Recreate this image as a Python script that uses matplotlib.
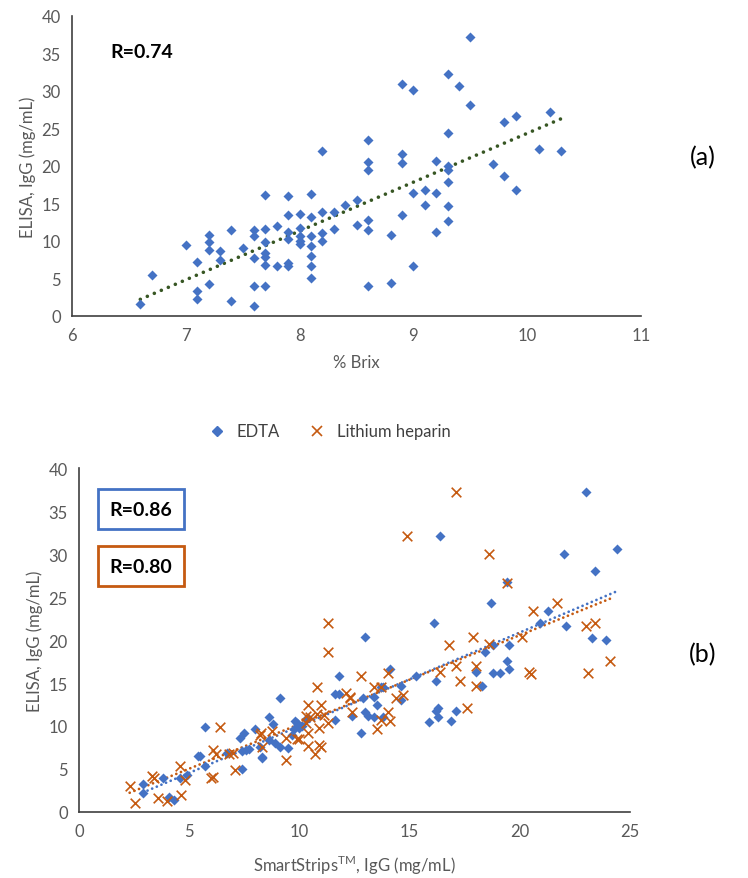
import matplotlib
matplotlib.use("Agg")
import matplotlib.pyplot as plt
from matplotlib.lines import Line2D
import numpy as np

plt.rcParams['font.family'] = ['Lato', 'DejaVu Sans']

# --- panel (a): % Brix vs ELISA IgG ---
brix = [9.5, 9.3, 8.9, 9.0, 9.4, 9.5, 10.2, 9.9, 9.8, 9.3, 8.6, 8.2, 10.1, 10.3, 8.9,
        8.9, 8.6, 8.6, 9.2, 9.3, 9.3, 9.7, 9.8, 9.3, 9.9, 9.0, 9.1, 9.2, 7.7, 7.9,
        8.1, 8.5, 8.4, 8.3, 8.2, 8.1, 8.0, 7.9, 9.1, 9.3, 8.9, 9.3, 8.6, 8.5, 8.3,
        8.2, 8.2, 8.6, 9.2, 8.8, 7.8, 7.7, 8.0, 7.9, 7.9, 8.0, 8.0, 8.0, 8.1, 8.1,
        8.1, 8.1, 8.1, 7.6, 7.6, 7.4, 7.2, 7.2, 7.2, 7.0, 7.3, 7.5, 7.7, 7.7, 7.7,
        7.7, 7.6, 7.8, 7.9, 7.9, 7.3, 7.1, 7.2, 7.1, 7.1, 7.4, 7.6, 7.6, 7.7, 6.7,
        6.6, 8.6, 8.8, 9.0]
elisa_a = [37.2, 32.2, 30.9, 30.1, 30.6, 28.1, 27.2, 26.7, 25.8, 24.4, 23.5, 22.0, 22.2, 22.0, 21.6,
           20.4, 20.5, 19.4, 20.7, 20.0, 19.4, 20.3, 18.6, 17.8, 16.8, 16.4, 16.8, 16.4, 16.1, 16.0,
           16.3, 15.4, 14.8, 13.9, 13.9, 13.2, 13.6, 13.5, 14.8, 14.6, 13.5, 12.6, 12.8, 12.1, 11.6,
           11.0, 10.0, 11.4, 11.2, 10.8, 12.0, 11.6, 11.7, 11.2, 10.3, 10.6, 10.0, 9.6, 10.7, 9.3,
           8.0, 6.6, 5.1, 11.4, 10.7, 11.4, 10.8, 9.9, 8.8, 9.5, 8.7, 9.1, 9.8, 8.4, 7.9,
           6.8, 7.7, 6.6, 7.1, 6.7, 7.4, 7.2, 4.2, 3.3, 2.3, 2.0, 1.3, 4.0, 4.0, 5.5,
           1.6, 4.0, 4.4, 6.6]

# --- panel (b): SmartStrips vs ELISA IgG ---
edta_x = [23.0, 16.4, 22.0, 24.4, 23.4, 19.4, 18.7, 21.3, 20.9, 16.1, 22.1, 23.3, 23.9, 13.0,
          19.5, 18.8, 18.4, 19.4, 19.5, 18.8, 19.1, 18.0, 16.2, 18.3, 14.1, 15.3, 14.6, 14.6,
          13.8, 13.7, 11.8, 11.6, 11.8, 12.9, 13.4, 9.1, 12.4, 13.0, 13.1, 13.5, 13.4, 13.8,
          12.8, 11.6, 16.2, 16.3, 15.9, 16.9, 17.1, 16.3, 8.6, 8.8, 8.0, 9.8, 10.0, 9.75,
          10.1, 10.3, 9.65, 9.1, 8.9, 8.6, 8.2, 9.5, 8.3, 5.7, 7.5, 7.3, 7.6, 7.4, 6.7,
          5.4, 5.5, 5.7, 4.9, 4.6, 3.8, 2.9, 2.9, 4.1, 4.3, 7.4, 7.7, 8.3, 10.4, 9.9]
edta_y = [37.2, 32.1, 30.0, 30.6, 28.0, 26.7, 24.3, 23.4, 22.0, 22.0, 21.6, 20.2, 20.0, 20.3,
          19.4, 19.4, 18.6, 17.6, 16.6, 16.2, 16.2, 16.3, 15.2, 14.6, 16.6, 15.8, 14.6, 13.0,
          14.5, 14.5, 15.8, 13.7, 13.7, 13.2, 13.4, 13.3, 11.2, 11.6, 11.2, 12.4, 11.0, 11.0,
          9.2, 10.7, 11.8, 11.0, 10.5, 10.6, 11.7, 12.1, 11.1, 10.2, 9.6, 10.6, 9.8, 9.6,
          10.0, 10.8, 9.0, 7.6, 8.0, 8.4, 7.6, 7.4, 6.3, 9.9, 9.2, 8.6, 7.2, 7.1, 6.9,
          6.5, 6.5, 5.4, 4.3, 3.9, 4.0, 3.3, 2.2, 1.8, 1.4, 5.0, 7.3, 6.4, 10.9, 10.4]
li_x = [17.1, 14.9, 18.6, 19.4, 20.6, 21.7, 11.3, 23.0, 23.4, 11.3, 17.9, 16.8, 20.1, 18.6,
        24.1, 23.1, 20.4, 20.5, 17.1, 18.0, 16.4, 17.3, 18.0, 12.8, 14.0, 13.4, 13.7, 14.4,
        14.7, 12.1, 12.3, 10.8, 10.4, 11.0, 11.1, 14.0, 14.1, 13.7, 13.5, 17.6, 10.3, 10.8,
        10.5, 11.3, 10.3, 10.9, 10.4, 10.9, 11.0, 10.0, 10.4, 10.7, 9.4, 9.4, 8.75, 8.25,
        8.3, 6.4, 6.1, 6.2, 7.1, 6.1, 6.0, 4.6, 4.8, 3.4, 3.3, 3.6, 4.0, 4.65, 2.3, 2.55,
        8.2, 7.0, 6.8, 12.4, 12.3, 9.9]
li_y = [37.2, 32.1, 30.0, 26.6, 23.4, 24.3, 22.0, 21.6, 22.0, 18.6, 20.3, 19.4, 20.4, 19.5,
        17.6, 16.2, 16.3, 16.0, 17.0, 17.0, 16.3, 15.2, 14.6, 15.8, 16.2, 14.5, 14.5, 13.2,
        13.6, 13.8, 13.2, 14.5, 12.4, 12.5, 11.3, 11.6, 10.6, 10.7, 9.6, 12.1, 11.2, 11.4,
        11.0, 10.3, 10.3, 9.8, 9.2, 7.8, 7.5, 8.5, 7.7, 6.7, 8.6, 6.1, 9.4, 9.2,
        7.5, 9.9, 7.2, 6.7, 4.9, 4.1, 3.9, 5.3, 3.7, 4.0, 4.2, 1.6, 1.3, 2.0, 3.0, 1.0,
        9.0, 6.9, 6.8, 11.6, 13.4, 8.5]

r_texts = ["R=0.74", "R=0.86", "R=0.80"]

blue = "#4472C4"
orange = "#C55A11"
green = "#375623"
gray = "#595959"


def trend(ax, x, y, color, lw, gap):
    # linear least squares trend, Excel style, over the data range
    x = np.array(x)
    k, b = np.polyfit(x, np.array(y), 1)
    xs = np.linspace(x.min(), x.max(), 50)
    ax.plot(xs, k * xs + b, linestyle=(0, (0.01, gap)), color=color, lw=lw,
            dash_capstyle='round', zorder=1)


def style(ax):
    for s in ['top', 'right']:
        ax.spines[s].set_visible(False)
    for s in ['left', 'bottom']:
        ax.spines[s].set_color('#404040')
        ax.spines[s].set_linewidth(1.2)
    ax.tick_params(length=0, labelsize=12, labelcolor=gray, pad=8)


fig = plt.figure(figsize=(7.48, 8.79), dpi=100)

ax1 = fig.add_axes([0.0963, 0.6394, 0.7607, 0.3413])
ax1.scatter(brix, elisa_a, marker='D', s=26, color=blue, zorder=2, linewidths=0)
trend(ax1, brix, elisa_a, green, 2.6, 2.1)
ax1.set_xlim(6, 11)
ax1.set_ylim(0, 40)
ax1.set_xticks(range(6, 12))
ax1.set_yticks(range(0, 41, 5))
style(ax1)
ax1.set_xlabel("% Brix", fontsize=12, color=gray, labelpad=8)
ax1.set_ylabel("ELISA, IgG (mg/mL)", fontsize=12, color=gray, labelpad=4)
ax1.text(0.067, 0.88, r_texts[0], transform=ax1.transAxes, fontsize=14,
         fontweight='bold', va='center', ha='left')
fig.text(0.94, 0.821, "(a)", fontsize=18, ha='center', va='center')

ax2 = fig.add_axes([0.1056, 0.0751, 0.7366, 0.3913])
ax2.scatter(edta_x, edta_y, marker='D', s=26, color=blue, zorder=2, linewidths=0)
ax2.scatter(li_x, li_y, marker='x', s=48, color=orange, zorder=3, linewidths=1.2)
trend(ax2, edta_x, edta_y, blue, 2.0, 1.8)
trend(ax2, li_x, li_y, orange, 2.0, 1.8)
ax2.set_xlim(0, 25)
ax2.set_ylim(0, 40)
ax2.set_xticks(range(0, 26, 5))
ax2.set_yticks(range(0, 41, 5))
style(ax2)
ax2.set_xlabel("SmartStrips$^{\\mathregular{TM}}$, IgG (mg/mL)", fontsize=12, color=gray, labelpad=10)
ax2.set_ylabel("ELISA, IgG (mg/mL)", fontsize=12, color=gray, labelpad=4)
for txt, yy, col in [(r_texts[1], 0.88, blue), (r_texts[2], 0.715, orange)]:
    ax2.text(0.113, yy, txt, transform=ax2.transAxes, fontsize=14, fontweight='bold',
             ha='center', va='center',
             bbox=dict(boxstyle='square,pad=0.6', facecolor='white', edgecolor=col, lw=2))
fig.text(0.94, 0.255, "(b)", fontsize=18, ha='center', va='center')

handles = [Line2D([], [], marker='D', ms=5, color=blue, ls='none'),
           Line2D([], [], marker='x', ms=7, mew=1.2, color=orange, ls='none')]
fig.legend(handles, ["EDTA", "Lithium heparin"], loc='center', bbox_to_anchor=(0.435, 0.508),
           ncol=2, frameon=False, fontsize=12, handletextpad=0.2, columnspacing=1.2,
           labelcolor='#404040')

fig.savefig("out.png", dpi=100)
